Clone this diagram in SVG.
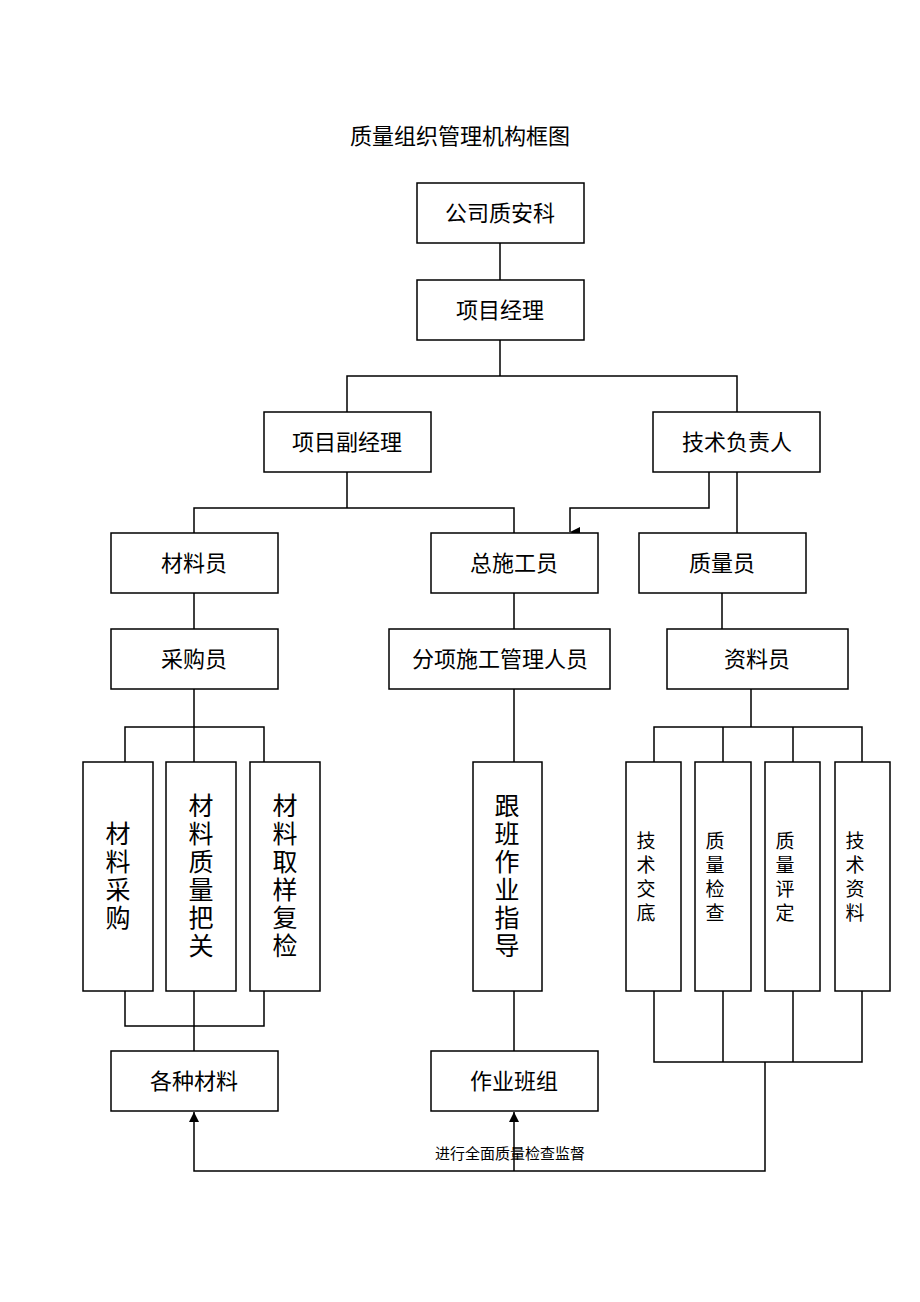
<svg xmlns="http://www.w3.org/2000/svg" width="920" height="1302" viewBox="0 0 920 1302">
<style>
rect{fill:#fff;stroke:#000;stroke-width:1.5}
text{font-family:"Liberation Serif","Noto Sans CJK SC",serif;fill:#000;text-anchor:middle}
.n{font-size:22px}
.v{font-size:25px}
.s{font-size:19px}
#connectors path,#connectors line{stroke:#000;stroke-width:1.5;fill:none}
</style>
<defs><marker id="a" markerWidth="10" markerHeight="10" refX="5" refY="10" orient="auto" markerUnits="userSpaceOnUse" viewBox="0 0 10 10"><path d="M0,0L10,0L5,10z" fill="#000"/></marker>
<marker id="u" markerWidth="10" markerHeight="10" refX="5" refY="0" markerUnits="userSpaceOnUse" viewBox="0 0 10 10"><path d="M0,10L10,10L5,0z" fill="#000"/></marker></defs>
<text x="460" y="144" class="n">质量组织管理机构框图</text>
<g id="connectors">
<path d="M500,243V280M500,340V376M347,412V376H737V412"/>
<path d="M347,472V508M194,533V508H514V533"/>
<path d="M709,472V508H570V532" marker-end="url(#a)"/>
<path d="M737,472V533"/>
<path d="M194,593V629M514,593V629M722,593V629"/>
<path d="M194,689V1051M125,762V727H264V762M125,991V1026H264V991"/>
<path d="M514,689V762M514,991V1051"/>
<path d="M751,689V727M654,762V727H862V762M723,727V762M793,727V762"/>
<path d="M654,991V1062H862V991M723,991V1062M793,991V1062M765,1062V1171H194V1112" marker-end="url(#u)"/>
<path d="M514,1171V1112" marker-end="url(#u)"/>
</g>
<g id="n1"><rect x="417" y="183" width="167" height="60"/><text x="500" y="221" class="n">公司质安科</text></g>
<g id="n2"><rect x="417" y="280" width="167" height="60"/><text x="500" y="318" class="n">项目经理</text></g>
<g id="n3"><rect x="264" y="412" width="167" height="60"/><text x="347" y="450" class="n">项目副经理</text></g>
<g id="n4"><rect x="653" y="412" width="167" height="60"/><text x="737" y="450" class="n">技术负责人</text></g>
<g id="n5"><rect x="111" y="533" width="167" height="60"/><text x="194" y="571" class="n">材料员</text></g>
<g id="n6"><rect x="431" y="533" width="167" height="60"/><text x="514" y="571" class="n">总施工员</text></g>
<g id="n7"><rect x="639" y="533" width="167" height="60"/><text x="722" y="571" class="n">质量员</text></g>
<g id="n8"><rect x="111" y="629" width="167" height="60"/><text x="194" y="667" class="n">采购员</text></g>
<g id="n9"><rect x="389" y="629" width="221" height="60"/><text x="500" y="667" class="n">分项施工管理人员</text></g>
<g id="n10"><rect x="667" y="629" width="181" height="60"/><text x="757" y="667" class="n">资料员</text></g>
<g id="n11"><rect x="83" y="762" width="70" height="229"/><text x="118" class="v"><tspan x="118" y="843">材</tspan><tspan x="118" y="871">料</tspan><tspan x="118" y="899">采</tspan><tspan x="118" y="927">购</tspan></text></g>
<g id="n12"><rect x="166" y="762" width="70" height="229"/><text class="v"><tspan x="201" y="815">材</tspan><tspan x="201" y="843">料</tspan><tspan x="201" y="871">质</tspan><tspan x="201" y="899">量</tspan><tspan x="201" y="927">把</tspan><tspan x="201" y="955">关</tspan></text></g>
<g id="n13"><rect x="250" y="762" width="70" height="229"/><text class="v"><tspan x="285" y="815">材</tspan><tspan x="285" y="843">料</tspan><tspan x="285" y="871">取</tspan><tspan x="285" y="899">样</tspan><tspan x="285" y="927">复</tspan><tspan x="285" y="955">检</tspan></text></g>
<g id="n14"><rect x="473" y="762" width="69" height="229"/><text class="v"><tspan x="507" y="815">跟</tspan><tspan x="507" y="843">班</tspan><tspan x="507" y="871">作</tspan><tspan x="507" y="899">业</tspan><tspan x="507" y="927">指</tspan><tspan x="507" y="955">导</tspan></text></g>
<g id="n15"><rect x="626" y="762" width="55" height="229"/><text class="s"><tspan x="646" y="848">技</tspan><tspan x="646" y="872">术</tspan><tspan x="646" y="896">交</tspan><tspan x="646" y="920">底</tspan></text></g>
<g id="n16"><rect x="695" y="762" width="56" height="229"/><text class="s"><tspan x="715" y="848">质</tspan><tspan x="715" y="872">量</tspan><tspan x="715" y="896">检</tspan><tspan x="715" y="920">查</tspan></text></g>
<g id="n17"><rect x="765" y="762" width="55" height="229"/><text class="s"><tspan x="785" y="848">质</tspan><tspan x="785" y="872">量</tspan><tspan x="785" y="896">评</tspan><tspan x="785" y="920">定</tspan></text></g>
<g id="n18"><rect x="835" y="762" width="55" height="229"/><text class="s"><tspan x="855" y="848">技</tspan><tspan x="855" y="872">术</tspan><tspan x="855" y="896">资</tspan><tspan x="855" y="920">料</tspan></text></g>
<g id="n19"><rect x="111" y="1051" width="167" height="60"/><text x="194" y="1089" class="n">各种材料</text></g>
<g id="n20"><rect x="431" y="1051" width="167" height="60"/><text x="514" y="1089" class="n">作业班组</text></g>
<text x="510" y="1159" style="font-size:15px">进行全面质量检查监督</text>
</svg>
